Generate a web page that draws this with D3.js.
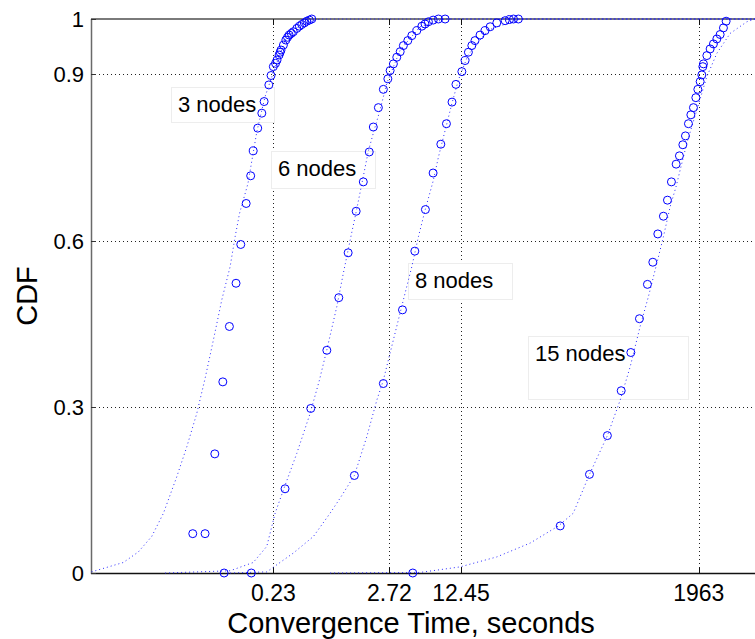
<!DOCTYPE html>
<html>
<head>
<meta charset="utf-8">
<script src="https://cdn.jsdelivr.net/npm/d3@7"></script>
<style>
  body { margin: 0; background: #fff; }
  svg { display: block; font-family: "Liberation Sans", Arial, sans-serif; }
</style>
</head>
<body>
<div id="chart"></div>
<script>

const seriesNames = ["3 nodes", "6 nodes", "8 nodes", "15 nodes"]

const time3 = [0.0807, 0.0414, 0.0538, 0.0662, 0.0785, 0.0903, 0.104, 0.115, 0.129, 0.142, 0.150, 0.165, 0.180, 0.189, 0.209, 0.219, 0.230, 0.241, 0.249, 0.260, 0.266, 0.271, 0.285, 0.300, 0.311, 0.322, 0.337, 0.352, 0.379, 0.400, 0.421, 0.445, 0.469, 0.495, 0.521]
const cdf3 = [0, 0.071, 0.071, 0.215, 0.345, 0.445, 0.523, 0.593, 0.667, 0.717, 0.762, 0.803, 0.830, 0.851, 0.881, 0.898, 0.914, 0.920, 0.926, 0.935, 0.940, 0.944, 0.953, 0.962, 0.967, 0.971, 0.974, 0.977, 0.983, 0.987, 0.990, 0.993, 0.996, 0.998, 1.0]

const time6 = [0.144, 0.295, 0.510, 0.718, 0.926, 1.13, 1.34, 1.56, 1.77, 1.93, 2.15, 2.39, 2.63, 2.76, 2.96, 3.18, 3.42, 3.66, 4.02, 4.38, 4.87, 5.42, 5.80, 6.23, 6.90, 7.72, 8.90]
const cdf6 = [0, 0.152, 0.297, 0.402, 0.497, 0.578, 0.653, 0.706, 0.760, 0.805, 0.840, 0.873, 0.892, 0.907, 0.919, 0.931, 0.941, 0.952, 0.961, 0.970, 0.979, 0.987, 0.991, 0.995, 0.998, 1.0, 1.0]

const time8 = [4.47, 1.29, 2.39, 3.59, 4.67, 5.85, 6.89, 8.12, 9.15, 10.3, 11.2, 12.7, 13.6, 14.6, 15.7, 16.8, 18.7, 20.8, 23.2, 26.7, 31.9, 35.0, 38.1, 42.3]
const cdf8 = [0, 0.176, 0.342, 0.475, 0.581, 0.656, 0.722, 0.774, 0.811, 0.850, 0.882, 0.905, 0.925, 0.940, 0.952, 0.961, 0.971, 0.979, 0.986, 0.993, 0.997, 0.999, 1.0, 1.0]

const time15 = [103, 192, 281, 377, 463, 556, 659, 739, 822, 926, 1009, 1098, 1214, 1302, 1400, 1480, 1577, 1660, 1754, 1846, 1926, 2023, 2097, 2142, 2170, 2333, 2502, 2684, 2886, 3096, 3321, 3517]
const cdf15 = [0.085, 0.178, 0.248, 0.329, 0.398, 0.459, 0.521, 0.561, 0.612, 0.644, 0.673, 0.706, 0.738, 0.753, 0.773, 0.789, 0.811, 0.827, 0.840, 0.858, 0.873, 0.887, 0.899, 0.914, 0.919, 0.934, 0.946, 0.955, 0.964, 0.972, 0.984, 0.996]

// fitted CDF curves (dotted), sampled off the figure
const fitTime3 = [0.0048, 0.00946, 0.0130, 0.0173, 0.0222, 0.0295, 0.0365, 0.0451, 0.0538, 0.0643, 0.0768, 0.0917, 0.102, 0.112, 0.134, 0.162, 0.193, 0.223, 0.295, 0.406, 0.622, 6500]
const fitCdf3 = [0.002, 0.019, 0.038, 0.066, 0.108, 0.174, 0.228, 0.288, 0.351, 0.421, 0.493, 0.553, 0.607, 0.649, 0.703, 0.797, 0.860, 0.896, 0.962, 0.990, 1.0, 1.0]

const fitTime6 = [0.023, 0.0917, 0.150, 0.200, 0.239, 0.285, 0.379, 0.503, 0.613, 0.718, 0.888, 1.02, 1.18, 1.37, 1.55, 1.73, 1.93, 2.23, 2.57, 3.42, 5.23, 8.90, 6500]
const fitCdf6 = [0, 0.004, 0.019, 0.048, 0.108, 0.150, 0.216, 0.288, 0.348, 0.403, 0.481, 0.541, 0.601, 0.661, 0.713, 0.760, 0.794, 0.836, 0.884, 0.944, 0.986, 1.0, 1.0]

const fitTime8 = [0.0917, 0.200, 0.352, 0.540, 0.770, 0.952, 1.29, 1.68, 2.08, 2.39, 2.96, 3.66, 4.38, 5.04, 5.81, 6.93, 7.72, 8.90, 10.3, 11.8, 14.5, 22.2, 43.9, 6500]
const fitCdf8 = [0, 0.002, 0.036, 0.066, 0.108, 0.135, 0.176, 0.246, 0.312, 0.348, 0.421, 0.493, 0.553, 0.607, 0.655, 0.709, 0.751, 0.799, 0.848, 0.890, 0.935, 0.980, 1.0, 1.0]

const fitTime15 = [0.77, 5.23, 12.2, 26.7, 54.3, 99.2, 136, 192, 281, 369, 456, 564, 673, 805, 926, 1068, 1210, 1524, 1886, 2333, 2886, 3831, 5464, 6520]
const fitCdf15 = [0, 0.001, 0.011, 0.029, 0.054, 0.085, 0.108, 0.178, 0.248, 0.312, 0.372, 0.445, 0.499, 0.559, 0.607, 0.661, 0.697, 0.776, 0.836, 0.896, 0.938, 0.974, 0.995, 1.0]

// label anchors (top-left of each text box, in data units)
const labelTime = [0.0259, 0.218, 4.07, 51.7]
const labelCdf = [0.877, 0.761, 0.559, 0.427]

const xTicks = [0.23, 2.72, 12.45, 1963]
const yTicks = [0, 0.3, 0.6, 0.9, 1]

// -------------------

const width = 755, height = 639
const plot = { left: 91, right: 755, top: 19, bottom: 573 }

const x = d3.scaleLog().domain([0.00475, 6500]).range([plot.left, plot.right])
const y = d3.scaleLinear().domain([0, 1]).range([plot.bottom, plot.top])

const zip = (xs, ys) => xs.map((v, i) => [v, ys[i]])
const points = [zip(time3, cdf3), zip(time6, cdf6), zip(time8, cdf8), zip(time15, cdf15)]
const fits = [zip(fitTime3, fitCdf3), zip(fitTime6, fitCdf6), zip(fitTime8, fitCdf8), zip(fitTime15, fitCdf15)]

// box sizes for the text annotations (px)
const boxW = [103, 104, 104, 160]
const boxH = [35, 37, 36, 63]

const svg = d3.select("#chart")
  .append("svg")
  .attr("width", width)
  .attr("height", height)

svg.append("defs").append("clipPath")
  .attr("id", "plot-clip")
  .append("rect")
  .attr("x", plot.left)
  .attr("y", plot.top - 2)
  .attr("width", plot.right - plot.left)
  .attr("height", plot.bottom - plot.top + 4)

// grid

svg.append("g")
  .selectAll("line")
  .data(yTicks.filter(t => t > 0 && t < 1))
  .join("line")
  .attr("x1", plot.left)
  .attr("x2", plot.right)
  .attr("y1", d => Math.round(y(d)) + 0.5)
  .attr("y2", d => Math.round(y(d)) + 0.5)
  .attr("stroke", "#222")
  .attr("stroke-dasharray", "1,3")

svg.append("g")
  .selectAll("line")
  .data(xTicks)
  .join("line")
  .attr("x1", d => Math.round(x(d)) + 0.5)
  .attr("x2", d => Math.round(x(d)) + 0.5)
  .attr("y1", plot.top)
  .attr("y2", plot.bottom)
  .attr("stroke", "#222")
  .attr("stroke-dasharray", "1,3")

// frame

svg.append("line")
  .attr("x1", plot.left).attr("x2", plot.right)
  .attr("y1", plot.top).attr("y2", plot.top)
  .attr("stroke", "#7a7a7a").attr("stroke-width", 2)

svg.append("line")
  .attr("x1", plot.left).attr("x2", plot.right)
  .attr("y1", plot.bottom + 0.5).attr("y2", plot.bottom + 0.5)
  .attr("stroke", "#111").attr("stroke-width", 1.3)

svg.append("line")
  .attr("x1", plot.left + 0.5).attr("x2", plot.left + 0.5)
  .attr("y1", plot.top).attr("y2", plot.bottom + 1)
  .attr("stroke", "#6a6a6a").attr("stroke-width", 1.5)

// tick marks

svg.append("g")
  .selectAll("line")
  .data(yTicks)
  .join("line")
  .attr("x1", plot.left)
  .attr("x2", plot.left + 5)
  .attr("y1", d => Math.round(y(d)) + 0.5)
  .attr("y2", d => Math.round(y(d)) + 0.5)
  .attr("stroke", "#333")

svg.append("g")
  .selectAll("line")
  .data(xTicks)
  .join("line")
  .attr("x1", d => Math.round(x(d)) + 0.5)
  .attr("x2", d => Math.round(x(d)) + 0.5)
  .attr("y1", plot.bottom)
  .attr("y2", plot.bottom - 6)
  .attr("stroke", "#111")

svg.append("g")
  .selectAll("line")
  .data(xTicks)
  .join("line")
  .attr("x1", d => Math.round(x(d)) + 0.5)
  .attr("x2", d => Math.round(x(d)) + 0.5)
  .attr("y1", plot.top)
  .attr("y2", plot.top + 6)
  .attr("stroke", "#111")

// tick labels

svg.append("g")
  .selectAll("text")
  .data(yTicks)
  .join("text")
  .attr("x", plot.left - 7)
  .attr("y", d => y(d) + 8)
  .attr("text-anchor", "end")
  .style("font-size", "22px")
  .text(d => d3.format("")(d))

svg.append("g")
  .selectAll("text")
  .data(xTicks)
  .join("text")
  .attr("x", d => x(d))
  .attr("y", 601)
  .attr("text-anchor", "middle")
  .style("font-size", "23px")
  .text(d => d)

// axis titles

svg.append("text")
  .attr("x", 411)
  .attr("y", 633)
  .attr("text-anchor", "middle")
  .style("font-size", "29px")
  .text("Convergence Time, seconds")

svg.append("text")
  .attr("transform", "translate(37," + (plot.top + plot.bottom) / 2 + ") rotate(-90)")
  .attr("text-anchor", "middle")
  .style("font-size", "29px")
  .text("CDF")

// text boxes (sit under the markers, like in the original)

const labels = svg.append("g")
  .selectAll("g")
  .data(seriesNames)
  .join("g")
  .attr("transform", (d, i) => "translate(" + Math.round(x(labelTime[i])) + "," + Math.round(y(labelCdf[i])) + ")")

labels.append("rect")
  .attr("x", 0.5)
  .attr("y", 0.5)
  .attr("width", (d, i) => boxW[i])
  .attr("height", (d, i) => boxH[i])
  .attr("fill", "#fff")
  .attr("stroke", "#ededed")

labels.append("text")
  .attr("x", 7)
  .attr("y", 25)
  .style("font-size", "22px")
  .text(d => d)

// fitted curves

const line = d3.line()
  .x(d => x(d[0]))
  .y(d => y(d[1]))

svg.append("g")
  .attr("clip-path", "url(#plot-clip)")
  .selectAll("path")
  .data(fits)
  .join("path")
  .attr("d", line)
  .attr("fill", "none")
  .attr("stroke", "#2a2aff")
  .attr("stroke-width", 1)
  .attr("stroke-dasharray", "1,3")

// markers

svg.append("g")
  .selectAll("g")
  .data(points)
  .join("g")
  .selectAll("circle")
  .data(d => d)
  .join("circle")
  .attr("cx", d => x(d[0]))
  .attr("cy", d => y(d[1]))
  .attr("r", 4)
  .attr("fill", "none")
  .attr("stroke", "#0000ff")
  .attr("stroke-width", 1)
</script>
</body>
</html>
